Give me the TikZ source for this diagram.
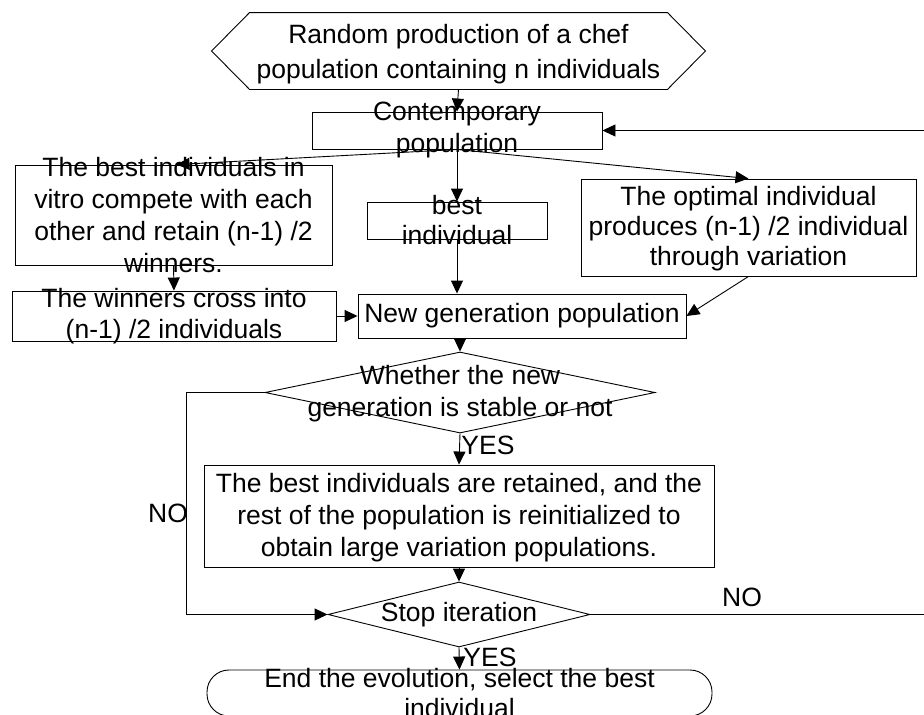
\documentclass[tikz,border=0pt]{standalone}
\usepackage{fontspec}
\setmainfont{Liberation Sans}
\usetikzlibrary{arrows.meta,shapes.geometric,calc}
\begin{document}
\begin{tikzpicture}[x=1pt,y=-1pt,
  line width=0.9pt,
  box/.style={draw,rectangle,inner sep=0pt},
  dia/.style={draw,diamond,inner sep=0pt},
  txt/.style={align=center,inner sep=0pt,font=\fontsize{26.5}{32}\selectfont},
  arr/.style={-{Triangle[length=13pt,width=12pt]}},
  ]
\clip (0,0) rectangle (924,715);
% shapes
\node[inner sep=0pt, minimum width=493pt, minimum height=76pt] (hex) at (458.5,51) {};
\draw (hex.west) -- ($(hex.north west)+(38,0)$) -- ($(hex.north east)+(-38,0)$) -- (hex.east) -- ($(hex.south east)+(-38,0)$) -- ($(hex.south west)+(38,0)$) -- cycle;
\node[box, minimum width=290pt, minimum height=37pt] (cont) at (457,130.5) {};
\node[box, minimum width=317pt, minimum height=100pt] (lbox) at (173.5,215) {};
\node[box, minimum width=180pt, minimum height=37pt] (best) at (457,220.5) {};
\node[box, minimum width=335pt, minimum height=97pt] (rbox) at (748.5,227.5) {};
\node[box, minimum width=324pt, minimum height=50pt] (win) at (174,316) {};
\node[box, minimum width=328pt, minimum height=44pt] (newgen) at (522,316) {};
\node[dia, minimum width=390pt, minimum height=81pt] (d1) at (460,392.5) {};
\node[box, minimum width=510pt, minimum height=102pt] (ret) at (459,516) {};
\node[dia, minimum width=262pt, minimum height=65pt] (stop) at (459,614.5) {};
\node[box, rounded corners=22pt, minimum width=505pt, minimum height=46pt] (term) at (459.5,693) {};
% texts
\node[txt, font=\fontsize{26.5}{35}\selectfont] (hext) at ($(hex)+(0,3)$) {Random production of a chef\\population containing n individuals};
\node[txt] (contt) at ($(cont)+(0,-1)$) {Contemporary\\population};
\node[txt] (lboxt) at (lbox) {The best individuals in\\vitro compete with each\\other and retain (n-1) /2\\winners.};
\node[txt, font=\fontsize{26.5}{30}\selectfont] (bestt) at (best) {best\\individual};
\node[txt, font=\fontsize{26.5}{30}\selectfont] (rboxt) at ($(rbox)+(0,1)$) {The optimal individual\\produces (n-1) /2 individual\\through variation};
\node[txt, font=\fontsize{26.5}{31}\selectfont] (wint) at (win) {The winners cross into\\(n-1) /2 individuals};
\node[txt] (newgent) at (newgen) {New generation population};
\node[txt] (d1t) at ($(d1)+(0,1.5)$) {Whether the new\\generation is stable or not};
\node[txt] (rett) at ($(ret)+(0,1.5)$) {The best individuals are retained, and the\\rest of the population is reinitialized to\\obtain large variation populations.};
\node[txt] (stopt) at (stop) {Stop iteration};
\node[txt, font=\fontsize{26.5}{30}\selectfont] (termt) at (term) {End the evolution, select the best\\individual};
\node[txt] (yes1) at (488,445) {YES};
\node[txt] (no1) at (168,513) {NO};
\node[txt] (no2) at (742,597) {NO};
\node[txt] (yes2) at (490,657) {YES};
% connectors
\coordinate (lp) at (186,0);
\coordinate (rp) at (930,0);
\draw[arr] (hex.south) -- (cont.north);
\draw[arr] (cont.south) -- ($(lbox.north)+(3,0)$);
\draw[arr] (cont.south) -- (best.north);
\draw[arr] (cont.south) -- (rbox.north);
\draw[arr] (lbox.south) -- (win.north);
\draw[arr] (best.south) -- (best.south |- newgen.north);
\draw[arr] (win.east) -- (newgen.west);
\draw[arr] (rbox.south) -- (newgen.east);
\draw[arr] (d1.north |- newgen.south) -- (d1.north);
\draw[arr] (d1.south) -- (ret.north);
\draw[arr] (d1.west) -- (d1.west -| lp) -- (stop.west -| lp) -- (stop.west);
\draw[arr] (ret.south) -- (stop.north);
\draw[arr] (stop.east) -- (stop.east -| rp) -- (cont.east -| rp) -- (cont.east);
\draw[arr] (stop.south) -- (term.north);
\end{tikzpicture}
\end{document}
